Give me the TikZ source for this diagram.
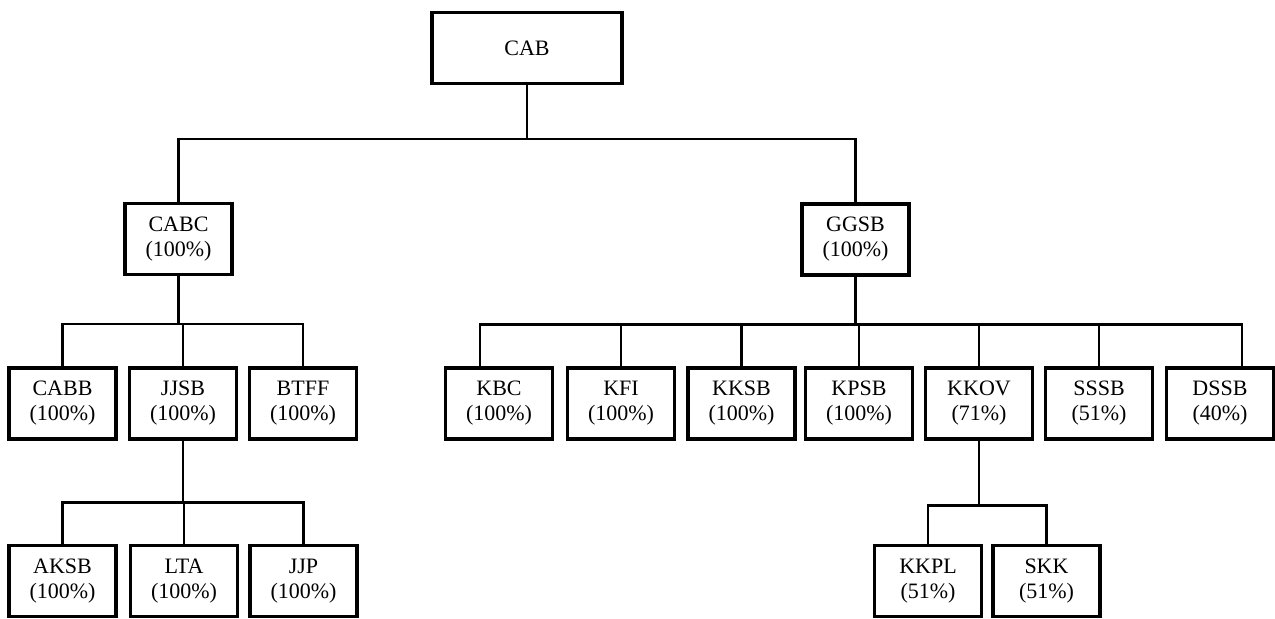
\documentclass[tikz,border=0pt]{standalone}
\usepackage{fontspec}
\setmainfont{Liberation Serif}
\usetikzlibrary{positioning}

\begin{document}
\begin{tikzpicture}[x=0.5pt,y=0.5pt,
    unit/.style={draw, line width=1.6pt, minimum width=53.5pt, minimum height=35.5pt,
      inner sep=0pt, align=center, font=\fontsize{11}{12.5}\selectfont},
    link/.style={line width=1.3pt}]
  \useasboundingbox (0,0) rectangle (1275,-619);
  % Top company
  \node[unit, minimum width=95pt] (cab) at (527,-48) {CAB};
  % Second level
  \node[unit] (cabc) at (178.5,-239) {CABC\\(100\%)};
  \node[unit] (ggsb) at (855.5,-239.5) {GGSB\\(100\%)};
  % Third level, under CABC
  \node[unit] (cabb) at (62.5,-403.5) {CABB\\(100\%)};
  \node[unit] (jjsb) at (183,-403.5) {JJSB\\(100\%)};
  \node[unit] (btff) at (303,-403.5) {BTFF\\(100\%)};
  % Third level, under GGSB
  \node[unit] (kbc) at (499,-403.5) {KBC\\(100\%)};
  \node[unit] (kfi) at (621,-403.5) {KFI\\(100\%)};
  \node[unit] (kksb) at (741.5,-403.5) {KKSB\\(100\%)};
  \node[unit] (kpsb) at (859,-403.5) {KPSB\\(100\%)};
  \node[unit] (kkov) at (979,-403.5) {KKOV\\(71\%)};
  \node[unit] (sssb) at (1099,-403.5) {SSSB\\(51\%)};
  \node[unit] (dssb) at (1220,-403.5) {DSSB\\(40\%)};
  % Fourth level
  \node[unit] (aksb) at (62.5,-581) {AKSB\\(100\%)};
  \node[unit] (lta) at (184,-581) {LTA\\(100\%)};
  \node[unit] (jjp) at (303.5,-581) {JJP\\(100\%)};
  \node[unit] (kkpl) at (928,-581) {KKPL\\(51\%)};
  \node[unit] (skk) at (1046.5,-581) {SKK\\(51\%)};

  % Connectors
  \foreach \c in {cabc,ggsb}
    \draw[link] (cab.south) -- ++(0,-54) -| (\c.north);
  \foreach \c in {cabb,jjsb,btff}
    \draw[link] (cabc.south) -- ++(0,-48) -| (\c.north);
  \foreach \c in {aksb,lta,jjp}
    \draw[link] (jjsb.south) -- ++(0,-62) -| (\c.north);
  \foreach \c in {kfi,kksb,kpsb,kkov,sssb}
    \draw[link] (ggsb.south) -- ++(0,-48) -| (\c.north);
  \draw[link] (ggsb.south) -- ++(0,-48) -| ([xshift=-9.5pt]kbc.north);
  \draw[link] (ggsb.south) -- ++(0,-48) -| ([xshift=11pt]dssb.north);
  \foreach \c in {kkpl,skk}
    \draw[link] (kkov.south) -- ++(0,-65) -| (\c.north);
\end{tikzpicture}
\end{document}
